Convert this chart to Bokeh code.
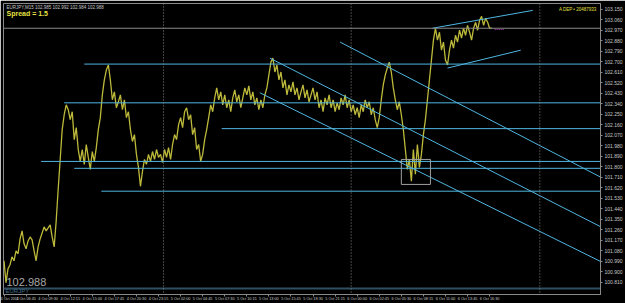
from bokeh.plotting import figure
from bokeh.models import Range1d, FixedTicker, Span, Label
from bokeh.embed import file_html
from bokeh.resources import INLINE

symbol = "EURJPY"
header = "EURJPY,M15  102.985 102.992 102.984 102.988"
spread_text = "Spread = 1.5"
account_text = "A DEP • 20487933"
current_price = 102.988

# M15 closes, one per bar
closes = [
    100.996, 100.809, 100.928, 100.962, 101.030, 100.996, 101.081, 101.056, 101.183, 101.252,
    101.141, 101.098, 101.166, 101.200, 101.175, 101.081, 100.996, 101.115, 101.183, 101.234,
    101.286, 101.252, 101.277, 101.303, 101.200,
    101.115, 101.337, 101.609, 101.864, 102.120, 102.247, 102.332, 102.290,
    102.205, 102.273, 102.034, 102.137, 101.949, 101.847, 101.949, 101.822, 101.992, 101.881,
    101.779, 101.932, 101.847, 101.966, 102.120, 102.222, 102.417, 102.545, 102.630, 102.673,
    102.545, 102.375, 102.443, 102.307, 102.358, 102.417, 102.290, 102.375, 102.222, 102.273,
    102.120, 102.018, 102.077, 101.907, 101.796, 101.634, 101.762, 101.864, 101.822, 101.907,
    101.847, 101.932, 101.864, 101.949, 101.881, 101.907, 101.839, 101.949, 101.881, 101.966,
    101.864, 101.992, 102.077, 102.034, 102.162, 102.222, 102.137, 102.273, 102.307, 102.205,
    102.247, 102.077, 102.137, 101.949, 101.992, 101.847, 101.907, 102.034, 102.120, 102.222,
    102.332, 102.273, 102.392, 102.477, 102.375, 102.443, 102.332, 102.417, 102.307, 102.375,
    102.273, 102.392, 102.460, 102.358, 102.417, 102.307, 102.392, 102.477, 102.417, 102.494,
    102.375, 102.443, 102.332, 102.392, 102.290, 102.375, 102.307, 102.417, 102.477, 102.588,
    102.698, 102.732, 102.613, 102.673, 102.545, 102.613, 102.477, 102.545, 102.417, 102.503,
    102.443, 102.528, 102.417, 102.477, 102.375, 102.443, 102.503, 102.392, 102.460, 102.358,
    102.417, 102.477, 102.375, 102.443, 102.307, 102.375, 102.273, 102.392, 102.332, 102.417,
    102.307, 102.375, 102.273, 102.349, 102.290, 102.392, 102.332, 102.417, 102.307, 102.375,
    102.273, 102.332, 102.247, 102.307, 102.222, 102.332, 102.273, 102.375, 102.307, 102.358,
    102.247, 102.307, 102.205, 102.137, 102.222, 102.375, 102.503, 102.588, 102.647, 102.698,
    102.613, 102.477, 102.375, 102.290, 102.358, 102.247, 102.120, 101.949, 101.779, 101.864,
    101.677, 101.949, 101.737, 101.992, 101.796, 101.907, 102.077, 102.205, 102.375, 102.545,
    102.715, 102.886, 102.988, 102.886, 102.954, 102.800, 102.869, 102.715, 102.673, 102.800,
    102.886, 102.817, 102.928, 102.869, 102.971, 102.903, 102.988, 102.928, 103.013, 102.954,
    102.886, 102.988, 103.039, 102.971, 103.056, 103.090, 103.013, 103.073, 103.039, 102.988,
    102.988,
]

# horizontal lines: start bar, price
hline_start = [40, 30, 108.5, 18.5, 35, 48.5]
hline_price = [102.681, 102.349, 102.128, 101.847, 101.788, 101.592]

# trend lines: (bar0, price0, bar1, price1)
tl_x0 = [167.5, 132.5, 127.5, 213.5, 221.0]
tl_y0 = [102.869, 102.732, 102.435, 102.988, 102.647]
tl_x1 = [297.5, 297.5, 297.5, 263.5, 257.5]
tl_y1 = [101.711, 101.286, 100.988, 103.141, 102.800]

# rectangle (bar0, bar1, price top, price bottom)
box = (198.0, 212.5, 101.864, 101.650)

low_line_price = 100.758
separators = [79.5, 173.0, 267.0]

price_ticks = [103.150, 103.060, 102.970, 102.880, 102.790, 102.700, 102.610, 102.520, 102.430,
               102.340, 102.250, 102.160, 102.070, 101.980, 101.890, 101.800, 101.710, 101.620,
               101.530, 101.440, 101.350, 101.260, 101.170, 101.080, 100.990, 100.900, 100.810]
time_ticks = [0, 11, 22, 33, 44, 55, 66, 77, 88, 99, 110, 121, 132, 143, 154, 165, 176, 187,
              198, 209, 220, 231, 242]
time_labels = ["4 Oct 2011", "4 Oct 06:45", "4 Oct 09:30", "4 Oct 12:15", "4 Oct 15:00",
               "4 Oct 17:45", "4 Oct 20:30", "4 Oct 23:15", "5 Oct 02:00", "5 Oct 04:45",
               "5 Oct 07:30", "5 Oct 10:15", "5 Oct 13:00", "5 Oct 15:45", "5 Oct 18:30",
               "5 Oct 21:15", "6 Oct 00:00", "6 Oct 02:45", "6 Oct 05:30", "6 Oct 08:15",
               "6 Oct 11:00", "6 Oct 13:45", "6 Oct 16:30"]

X0, X1 = -0.25, 297.25
Y0, Y1 = 100.707, 103.200

p = figure(width=625, height=303, output_backend="svg", toolbar_location=None,
           x_range=Range1d(X0, X1), y_range=Range1d(Y0, Y1),
           y_axis_location="right", min_border_left=3, min_border_top=3,
           min_border_right=0, min_border_bottom=0)
p.background_fill_color = "black"
p.border_fill_color = "black"
p.outline_line_color = "#8a8a8a"
p.xgrid.visible = False
p.ygrid.visible = False

FONT = "Liberation Sans"
ya = p.yaxis[0]
ya.ticker = FixedTicker(ticks=price_ticks)
ya.major_label_overrides = {t: f"{t:.3f}" for t in price_ticks}
ya.major_label_text_font = FONT
ya.major_label_text_font_size = "5px"
ya.major_label_text_color = "#c8c8c8"
ya.axis_line_color = "#8a8a8a"
ya.major_tick_line_color = "#8a8a8a"
ya.major_tick_out = 2
ya.major_tick_in = 0
ya.minor_tick_line_color = None
ya.major_label_standoff = 2

xa = p.xaxis[0]
xa.ticker = FixedTicker(ticks=time_ticks)
xa.major_label_overrides = dict(zip(time_ticks, time_labels))
xa.major_label_text_font = FONT
xa.major_label_text_font_size = "3.8px"
xa.major_label_text_color = "#c8c8c8"
xa.major_label_text_align = "left"
xa.axis_line_color = "#8a8a8a"
xa.major_tick_line_color = "#8a8a8a"
xa.major_tick_out = 2
xa.major_tick_in = 0
xa.minor_tick_line_color = None
xa.major_label_standoff = 0

for s in separators:
    p.add_layout(Span(location=s, dimension="height", line_color="#8a8a8a",
                      line_dash="1 2", line_width=1))

p.add_layout(Span(location=current_price, dimension="width", line_color="#8a8a8a", line_width=1))

bars = list(range(len(closes)))
p.line(bars, closes, line_color="#bdb93a", line_width=1.3)

p.segment(x0=hline_start, y0=hline_price, x1=[X1] * len(hline_start), y1=hline_price,
          line_color="#4fb6e0", line_width=1)
p.segment(x0=tl_x0, y0=tl_y0, x1=tl_x1, y1=tl_y1, line_color="#4fb6e0", line_width=1)
p.segment(x0=[X0], y0=[low_line_price], x1=[X1], y1=[low_line_price],
          line_color="#2e5060", line_width=2)

p.quad(left=[box[0]], right=[box[1]], top=[box[2]], bottom=[box[3]],
       fill_color=None, line_color="#a0a0a0", line_width=1)

p.segment(x0=[244.5], y0=[current_price - 0.01], x1=[249.5], y1=[current_price - 0.01],
          line_color="#c040c0", line_dash="1 1", line_width=1)

p.add_layout(Label(x=X0, y=Y1, x_offset=3, y_offset=-1, text=header, text_font=FONT,
                   text_font_size="4.5px", text_color="#c8c8c8", text_baseline="top"))
p.add_layout(Label(x=X0, y=Y1, x_offset=3, y_offset=-6, text=spread_text, text_font=FONT,
                   text_font_size="7px", text_font_style="bold", text_color="#e6e040",
                   text_baseline="top"))
p.add_layout(Label(x=X1, y=Y1, x_offset=-4, y_offset=-3, text=account_text, text_font=FONT,
                   text_font_size="4.5px", text_color="#e6e040", text_baseline="top",
                   text_align="right"))
p.add_layout(Label(x=X0, y=Y0, x_offset=3, y_offset=9, text=f"{current_price:.3f}",
                   text_font=FONT, text_font_size="11px", text_color="#a8a8a8",
                   text_baseline="bottom"))
p.add_layout(Label(x=X0, y=Y0, x_offset=2, y_offset=1, text=symbol, text_font=FONT,
                   text_font_size="6px", text_color="#3f6f8f", text_baseline="bottom"))
p.add_layout(Label(x=X1, y=current_price, x_offset=1, text=f"{current_price:.3f}",
                   text_font=FONT, text_font_size="5px", text_color="black",
                   background_fill_color="white", text_baseline="middle"))

open("out.html", "w").write(file_html(p, INLINE))
